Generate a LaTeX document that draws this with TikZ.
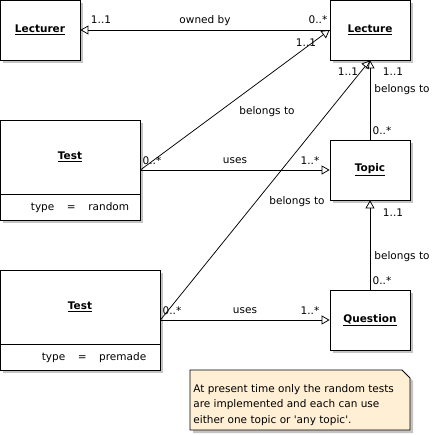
\documentclass[tikz,border=0pt]{standalone}
\usepackage{fontspec}
\setmainfont{DejaVu Sans}
\usetikzlibrary{arrows.meta,shadows}

\definecolor{notefill}{RGB}{255,239,213}
\definecolor{shadowgray}{RGB}{196,196,196}

\tikzset{
  classbox/.style={draw, fill=white, inner sep=0pt, minimum width=80pt, minimum height=60pt,
    font=\fontsize{10.5}{13}\selectfont\bfseries,
    drop shadow={shadow xshift=3pt, shadow yshift=-3pt, fill=shadowgray, opacity=1}},
  testbox/.style={classbox, minimum height=100pt},
  boxtitle/.style={inner sep=0pt, font=\fontsize{10.5}{13}\selectfont\bfseries},
  mult/.style={anchor=base, inner sep=0pt},
  inherit/.style={-{Triangle[open, length=8pt, width=9pt]}}
}

\begin{document}
\begin{tikzpicture}[x=1pt, y=-1pt, line width=0.75pt, font=\fontsize{10.5}{13}\selectfont]
    \useasboundingbox (0,0) rectangle (436,435);

    % The four plain classes
    \node[classbox] (lecturer) at (40,30) {\underline{Lecturer}};
    \node[classbox] (lecture) at (370,30) {\underline{Lecture}};
    \node[classbox] (topic) at (370,170) {\underline{Topic}};
    \node[classbox] (question) at (370,320) {\underline{Question}};

    % The two kinds of test, each with one attribute
    \node[testbox, minimum width=140pt] (testr) at (70,170) {};
    \draw (0,194) -- (140,194);
    \node[boxtitle] (testrname) at (70,157) {\underline{Test}};
    \node[mult] (testrtype) at (80,211) {type\hspace{1.2em}=\hspace{1.2em}random};

    \node[testbox, minimum width=160pt] (testp) at (80,320) {};
    \draw (0,344) -- (160,344);
    \node[boxtitle] (testpname) at (80,307) {\underline{Test}};
    \node[mult] (testptype) at (94,360) {type\hspace{1.2em}=\hspace{1.2em}premade};

    % Connectors
    \draw[inherit] (lecture) -- (lecturer);
    \draw[inherit] (testr.east) -- (lecture.west);
    \draw[inherit] (testp.east) -- (lecture.south);
    \draw[inherit] (testr.east) -- (topic.west);
    \draw[inherit] (testp.east) -- (question.west);
    \draw[inherit] (topic.north) -- (lecture.south);
    \draw[inherit] (question.north) -- (topic.south);

    % Multiplicities and roles
    \node[mult] (m1) at (101,24) {1..1};
    \node[mult] (ownedby) at (205,24) {owned by};
    \node[mult] (m2) at (318,24) {0..*};
    \node[mult] (m3) at (306,47) {1..1};
    \node[mult] (belongs1) at (267,115) {belongs to};
    \node[mult] (m4) at (348,76) {1..1};
    \node[mult] (m5) at (393,76) {1..1};
    \node[mult] (belongs2) at (402,93) {belongs to};
    \node[mult] (m6) at (382,135) {0..*};
    \node[mult] (m7) at (152,165) {0..*};
    \node[mult] (uses1) at (235,164) {uses};
    \node[mult] (m8) at (310,165) {1..*};
    \node[mult] (belongs3) at (297,205) {belongs to};
    \node[mult] (m9) at (393,217) {1..1};
    \node[mult] (belongs4) at (402,260) {belongs to};
    \node[mult] (m10) at (382,285) {0..*};
    \node[mult] (m11) at (172,315) {0..*};
    \node[mult] (uses2) at (245,314) {uses};
    \node[mult] (m12) at (310,315) {1..*};

    % Note with folded corner
    \fill[shadowgray] (193,373) -- (405,373) -- (413,381) -- (413,433) -- (193,433) -- cycle;
    \filldraw[fill=notefill] (190,370) -- (402,370) -- (410,378) -- (410,430) -- (190,430) -- cycle;
    \node[anchor=north west, inner sep=0pt, align=left, font=\fontsize{10.5}{15.5}\selectfont] (note) at (193,384)
      {At present time only the random tests\\are implemented and each can use\\either one topic or \textquotesingle any topic\textquotesingle.};
\end{tikzpicture}
\end{document}
